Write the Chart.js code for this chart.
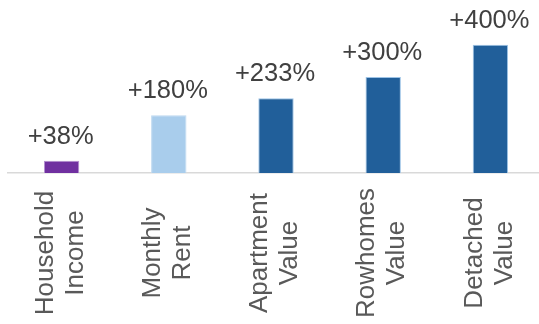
<!DOCTYPE html>
<html>
<head>
<meta charset="utf-8">
<script src="https://cdn.jsdelivr.net/npm/chart.js@4/dist/chart.umd.min.js"></script>
<style>
  html, body { margin: 0; padding: 0; background: #fff; overflow: hidden; }
  #wrap { width: 546px; height: 324px; }
</style>
</head>
<body>
<div id="wrap"><canvas id="growthChart" width="546" height="324"></canvas></div>
<script>
// ─── Data ───

var categories = [
  ["Household", "Income"],
  ["Monthly", "Rent"],
  ["Apartment", "Value"],
  ["Rowhomes", "Value"],
  ["Detached", "Value"]
];
var growthPct = [38, 180, 233, 300, 400];
var valueLabels = ["+38%", "+180%", "+233%", "+300%", "+400%"];

var barColors = ["#7030A0", "#A9CDEC", "#215F9A", "#215F9A", "#215F9A"];
var barBorders = ["#B48FD0", "#BDD8F0", "#9DC3E6", "#9DC3E6", "#9DC3E6"];

var FONT = "'Liberation Sans', Arial, sans-serif";

// ─── Plugins: value labels above bars, centred rotated category labels ───

var valueLabelPlugin = {
  id: "valueLabels",
  afterDatasetsDraw: function (chart) {
    var ctx = chart.ctx;
    var meta = chart.getDatasetMeta(0);
    ctx.save();
    ctx.fillStyle = "#404040";
    ctx.font = "25.5px " + FONT;
    ctx.textAlign = "center";
    ctx.textBaseline = "alphabetic";
    meta.data.forEach(function (bar, i) {
      ctx.fillText(valueLabels[i], bar.x - 1, bar.y - 17);
    });
    ctx.restore();
  }
};

var categoryLabelPlugin = {
  id: "categoryLabels",
  afterDraw: function (chart) {
    var ctx = chart.ctx;
    var xScale = chart.scales.x;
    var lineGap = 30;
    ctx.save();
    ctx.fillStyle = "#595959";
    ctx.font = "26px " + FONT;
    ctx.textAlign = "center";
    ctx.textBaseline = "middle";
    categories.forEach(function (lines, i) {
      var x = xScale.getPixelForValue(i) - 1;
      ctx.save();
      ctx.translate(x, 253);
      ctx.rotate(-Math.PI / 2);
      lines.forEach(function (line, j) {
        var off = (j - (lines.length - 1) / 2) * lineGap;
        ctx.fillText(line, 0, off);
      });
      ctx.restore();
    });
    ctx.restore();
  }
};

// ─── Chart ───

new Chart(document.getElementById("growthChart"), {
  type: "bar",
  data: {
    labels: categories,
    datasets: [
      {
        data: growthPct,
        backgroundColor: barColors,
        borderColor: barBorders,
        borderWidth: 1,
        categoryPercentage: 1,
        barPercentage: 0.33
      }
    ]
  },
  options: {
    responsive: false,
    animation: false,
    layout: { padding: { left: 8, right: 2, top: 0, bottom: 151 } },
    plugins: {
      legend: { display: false },
      tooltip: { enabled: false }
    },
    scales: {
      x: {
        grid: { display: false, drawTicks: false },
        border: { display: true, color: "#D9D9D9", width: 1.5 },
        ticks: { display: false }
      },
      y: {
        display: false,
        min: 0,
        max: 540
      }
    }
  },
  plugins: [valueLabelPlugin, categoryLabelPlugin]
});
</script>
</body>
</html>
